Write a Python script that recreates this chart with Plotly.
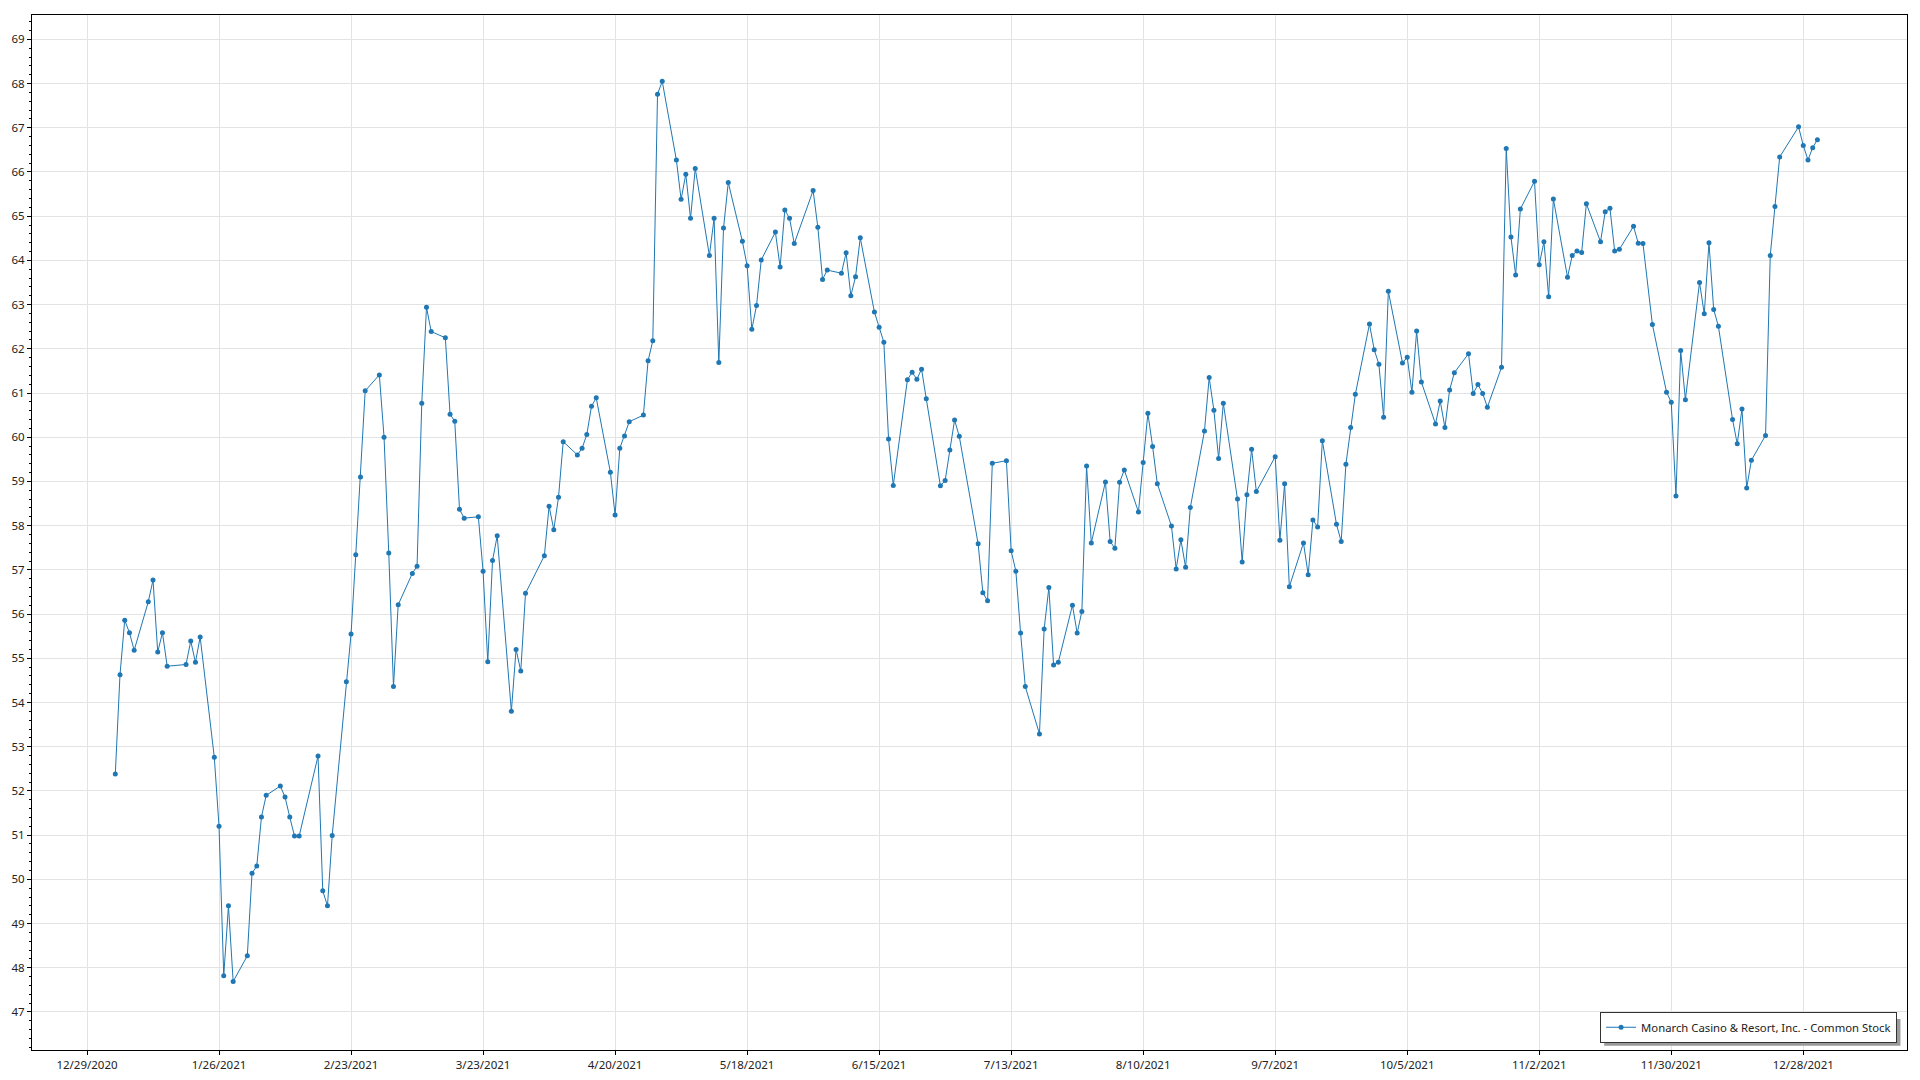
import plotly.graph_objects as go

series_name = "Monarch Casino & Resort, Inc. - Common Stock"

dates = [
    "2021-01-04", "2021-01-05", "2021-01-06", "2021-01-07", "2021-01-08",
    "2021-01-11", "2021-01-12", "2021-01-13", "2021-01-14", "2021-01-15",
    "2021-01-19", "2021-01-20", "2021-01-21", "2021-01-22",
    "2021-01-25", "2021-01-26", "2021-01-27", "2021-01-28", "2021-01-29",
    "2021-02-01", "2021-02-02", "2021-02-03", "2021-02-04", "2021-02-05",
    "2021-02-08", "2021-02-09", "2021-02-10", "2021-02-11", "2021-02-12",
    "2021-02-16", "2021-02-17", "2021-02-18", "2021-02-19",
    "2021-02-22", "2021-02-23", "2021-02-24", "2021-02-25", "2021-02-26",
    "2021-03-01", "2021-03-02", "2021-03-03", "2021-03-04", "2021-03-05",
    "2021-03-08", "2021-03-09", "2021-03-10", "2021-03-11", "2021-03-12",
    "2021-03-15", "2021-03-16", "2021-03-17", "2021-03-18", "2021-03-19",
    "2021-03-22", "2021-03-23", "2021-03-24", "2021-03-25", "2021-03-26",
    "2021-03-29", "2021-03-30", "2021-03-31", "2021-04-01",
    "2021-04-05", "2021-04-06", "2021-04-07", "2021-04-08", "2021-04-09",
    "2021-04-12", "2021-04-13", "2021-04-14", "2021-04-15", "2021-04-16",
    "2021-04-19", "2021-04-20", "2021-04-21", "2021-04-22", "2021-04-23",
    "2021-04-26", "2021-04-27", "2021-04-28", "2021-04-29", "2021-04-30",
    "2021-05-03", "2021-05-04", "2021-05-05", "2021-05-06", "2021-05-07",
    "2021-05-10", "2021-05-11", "2021-05-12", "2021-05-13", "2021-05-14",
    "2021-05-17", "2021-05-18", "2021-05-19", "2021-05-20", "2021-05-21",
    "2021-05-24", "2021-05-25", "2021-05-26", "2021-05-27", "2021-05-28",
    "2021-06-01", "2021-06-02", "2021-06-03", "2021-06-04",
    "2021-06-07", "2021-06-08", "2021-06-09", "2021-06-10", "2021-06-11",
    "2021-06-14", "2021-06-15", "2021-06-16", "2021-06-17", "2021-06-18",
    "2021-06-21", "2021-06-22", "2021-06-23", "2021-06-24", "2021-06-25",
    "2021-06-28", "2021-06-29", "2021-06-30", "2021-07-01", "2021-07-02",
    "2021-07-06", "2021-07-07", "2021-07-08", "2021-07-09",
    "2021-07-12", "2021-07-13", "2021-07-14", "2021-07-15", "2021-07-16",
    "2021-07-19", "2021-07-20", "2021-07-21", "2021-07-22", "2021-07-23",
    "2021-07-26", "2021-07-27", "2021-07-28", "2021-07-29", "2021-07-30",
    "2021-08-02", "2021-08-03", "2021-08-04", "2021-08-05", "2021-08-06",
    "2021-08-09", "2021-08-10", "2021-08-11", "2021-08-12", "2021-08-13",
    "2021-08-16", "2021-08-17", "2021-08-18", "2021-08-19", "2021-08-20",
    "2021-08-23", "2021-08-24", "2021-08-25", "2021-08-26", "2021-08-27",
    "2021-08-30", "2021-08-31", "2021-09-01", "2021-09-02", "2021-09-03",
    "2021-09-07", "2021-09-08", "2021-09-09", "2021-09-10",
    "2021-09-13", "2021-09-14", "2021-09-15", "2021-09-16", "2021-09-17",
    "2021-09-20", "2021-09-21", "2021-09-22", "2021-09-23", "2021-09-24",
    "2021-09-27", "2021-09-28", "2021-09-29", "2021-09-30", "2021-10-01",
    "2021-10-04", "2021-10-05", "2021-10-06", "2021-10-07", "2021-10-08",
    "2021-10-11", "2021-10-12", "2021-10-13", "2021-10-14", "2021-10-15",
    "2021-10-18", "2021-10-19", "2021-10-20", "2021-10-21", "2021-10-22",
    "2021-10-25", "2021-10-26", "2021-10-27", "2021-10-28", "2021-10-29",
    "2021-11-01", "2021-11-02", "2021-11-03", "2021-11-04", "2021-11-05",
    "2021-11-08", "2021-11-09", "2021-11-10", "2021-11-11", "2021-11-12",
    "2021-11-15", "2021-11-16", "2021-11-17", "2021-11-18", "2021-11-19",
    "2021-11-22", "2021-11-23", "2021-11-24", "2021-11-26",
    "2021-11-29", "2021-11-30", "2021-12-01", "2021-12-02", "2021-12-03",
    "2021-12-06", "2021-12-07", "2021-12-08", "2021-12-09", "2021-12-10",
    "2021-12-13", "2021-12-14", "2021-12-15", "2021-12-16", "2021-12-17",
    "2021-12-20", "2021-12-21", "2021-12-22", "2021-12-23",
    "2021-12-27", "2021-12-28", "2021-12-29", "2021-12-30", "2021-12-31",
]

prices = [
    52.38, 54.63, 55.86, 55.58, 55.18,
    56.28, 56.77, 55.14, 55.58, 54.82,
    54.86, 55.39, 54.91, 55.48,
    52.76, 51.20, 47.82, 49.40, 47.69,
    48.27, 50.14, 50.30, 51.41, 51.90,
    52.11, 51.86, 51.41, 50.98, 50.98,
    52.79, 49.74, 49.40, 50.99,
    54.47, 55.55, 57.34, 59.10, 61.05,
    61.41, 60.00, 57.38, 54.36, 56.21,
    56.92, 57.08, 60.77, 62.94, 62.39,
    62.25, 60.52, 60.36, 58.37, 58.17,
    58.20, 56.97, 54.92, 57.21, 57.77,
    53.80, 55.20, 54.71, 56.47,
    57.32, 58.44, 57.91, 58.64, 59.90,
    59.60, 59.75, 60.06, 60.70, 60.89,
    59.21, 58.24, 59.75, 60.03, 60.35,
    60.50, 61.73, 62.18, 67.76, 68.05,
    66.27, 65.38, 65.95, 64.95, 66.08,
    64.11, 64.95, 61.69, 64.73, 65.76,
    64.43, 63.88, 62.44, 62.98, 64.01,
    64.64, 63.85, 65.14, 64.95, 64.38,
    65.58, 64.75, 63.57, 63.78,
    63.71, 64.17, 63.20, 63.63, 64.51,
    62.83, 62.49, 62.15, 59.96, 58.91,
    61.30, 61.47, 61.31, 61.54, 60.87,
    58.90, 59.02, 59.71, 60.39, 60.02,
    57.59, 56.48, 56.30, 59.41,
    59.47, 57.43, 56.97, 55.57, 54.36,
    53.29, 55.66, 56.60, 54.85, 54.91,
    56.20, 55.57, 56.06, 59.35, 57.61,
    58.99, 57.64, 57.49, 58.98, 59.26,
    58.31, 59.43, 60.54, 59.79, 58.95,
    57.99, 57.02, 57.68, 57.06, 58.41,
    60.14, 61.35, 60.61, 59.52, 60.77,
    58.60, 57.18, 58.70, 59.73, 58.77,
    59.56, 57.67, 58.95, 56.62,
    57.61, 56.89, 58.13, 57.97, 59.92,
    58.03, 57.64, 59.39, 60.22, 60.97,
    62.56, 61.98, 61.65, 60.45, 63.30,
    61.68, 61.81, 61.02, 62.40, 61.25,
    60.30, 60.82, 60.22, 61.07, 61.46,
    61.89, 60.99, 61.19, 60.99, 60.68,
    61.58, 66.53, 64.53, 63.67, 65.16,
    65.79, 63.90, 64.42, 63.18, 65.39,
    63.62, 64.11, 64.21, 64.18, 65.28,
    64.42, 65.10, 65.18, 64.21, 64.25,
    64.77, 64.39, 64.38, 62.55,
    61.02, 60.79, 58.67, 61.96, 60.85,
    63.50, 62.79, 64.40, 62.89, 62.51,
    60.40, 59.85, 60.64, 58.85, 59.48,
    60.04, 64.11, 65.22, 66.34,
    67.02, 66.60, 66.27, 66.55, 66.73,
]

y_ticks = list(range(47, 70))
x_tick_start = "2020-12-29"
x_tick_step_days = 28

blue = "#1f77b4"
grid = "#e3e3e3"
font_family = "Noto Sans, Open Sans, sans-serif"

fig = go.Figure()
fig.add_trace(go.Scatter(
    x=dates, y=prices, mode="lines+markers", name=series_name,
    line=dict(color=blue, width=1),
    marker=dict(color=blue, size=5),
    showlegend=True,
))

fig.update_layout(
    width=1920, height=1080,
    margin=dict(l=32, r=13, t=15, b=30, pad=0),
    paper_bgcolor="white", plot_bgcolor="white",
    font=dict(family=font_family, size=12, color="#222222"),
    showlegend=True,
    legend=dict(
        x=0.9947, y=0.007, xanchor="right", yanchor="bottom",
        bgcolor="white", bordercolor="#333333", borderwidth=1,
        font=dict(family=font_family, size=11.3, color="#222222"),
        itemwidth=30,
    ),
    # soft drop shadow behind the legend box
    shapes=[dict(
        type="rect", xref="paper", yref="paper",
        x0=0.8385, x1=0.9965, y0=0.0040, y1=0.0300,
        fillcolor="#9a9a9a", line=dict(width=0), layer="above",
    )],
)

fig.update_xaxes(
    type="date", automargin=False,
    range=["2020-12-17 08:00", "2022-01-19 00:00"],
    tick0=x_tick_start, dtick=x_tick_step_days * 86400000,
    tickformat="%-m/%-d/%Y",
    showgrid=True, gridcolor=grid, gridwidth=1,
    showline=True, linecolor="black", linewidth=1, mirror=True,
    ticks="outside", ticklen=4, tickcolor="black",
    tickfont=dict(size=11.5),
    zeroline=False,
)
fig.update_yaxes(
    automargin=False,
    range=[46.14, 69.55],
    tickvals=y_ticks,
    showgrid=True, gridcolor=grid, gridwidth=1,
    showline=True, linecolor="black", linewidth=1, mirror=True,
    ticks="outside", ticklen=4, tickcolor="black",
    tickfont=dict(size=11.5),
    minor=dict(dtick=0.2, tick0=47, ticks="outside", ticklen=2, tickcolor="black", showgrid=False),
    zeroline=False,
)

fig.write_html(
    "out.html",
    config={"displayModeBar": False},
    post_script="document.body.style.margin='0';",
)
